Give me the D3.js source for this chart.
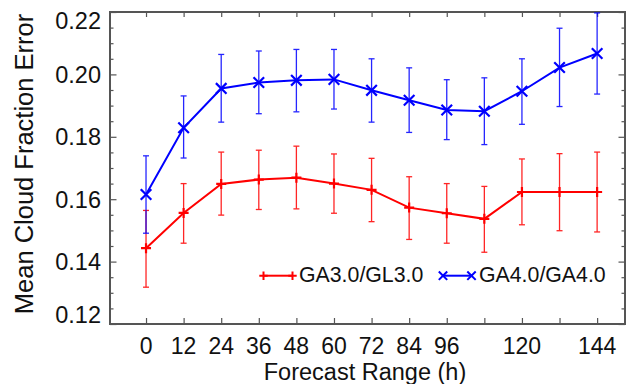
<!DOCTYPE html>
<html>
<head>
<meta charset="utf-8">
<script src="https://cdn.jsdelivr.net/npm/d3@7"></script>
<style>
  html, body { margin: 0; padding: 0; background: #fff; }
  svg { display: block; font-family: "Liberation Sans", Arial, Helvetica, sans-serif; }
</style>
</head>
<body>
<svg id="chart" width="630" height="384"></svg>
<script>
// Forecast lead times (hours)
const leadTimes = [0, 12, 24, 36, 48, 60, 72, 84, 96, 108, 120, 132, 144];
const xTickLabels = [0, 12, 24, 36, 48, 60, 72, 84, 96, 120, 144];
const yTickValues = [0.12, 0.14, 0.16, 0.18, 0.20, 0.22];

// GA3.0/GL3.0 mean cloud fraction error and its bar limits
const ga3Mean = [0.1443, 0.1556, 0.1649, 0.1663, 0.1669, 0.1650, 0.1630, 0.1573, 0.1555, 0.1537, 0.1623, 0.1623, 0.1623];
const ga3Low  = [0.1318, 0.1459, 0.1549, 0.1567, 0.1569, 0.1555, 0.1528, 0.1471, 0.1459, 0.1430, 0.1518, 0.1499, 0.1495];
const ga3High = [0.1564, 0.1650, 0.1751, 0.1757, 0.1770, 0.1745, 0.1731, 0.1672, 0.1650, 0.1641, 0.1729, 0.1746, 0.1751];

// GA4.0/GA4.0 mean cloud fraction error and its bar limits
const ga4Mean = [0.1615, 0.1829, 0.1955, 0.1974, 0.1981, 0.1984, 0.1949, 0.1917, 0.1886, 0.1882, 0.1946, 0.2022, 0.2067];
const ga4Low  = [0.1491, 0.1732, 0.1847, 0.1874, 0.1880, 0.1889, 0.1847, 0.1814, 0.1791, 0.1775, 0.1840, 0.1897, 0.1937];
const ga4High = [0.1739, 0.1931, 0.2064, 0.2075, 0.2080, 0.2080, 0.2050, 0.2021, 0.1983, 0.1989, 0.2050, 0.2148, 0.2197];

const seriesNames = ["GA3.0/GL3.0", "GA4.0/GA4.0"];

const frameLeft = 110, frameRight = 625, frameTop = 12, frameBottom = 324;
const svg = d3.select("#chart");

const x = d3.scaleLinear().domain([-11.5, 152.9]).range([frameLeft, frameRight]);
const y = d3.scaleLinear().domain([0.12, 0.22]).range([frameBottom, frameTop]);

const axisColor = "#555";

// Clip marks to the plotting frame
svg.append("clipPath").attr("id", "plotclip")
  .append("rect").attr("x", frameLeft).attr("y", frameTop)
  .attr("width", frameRight - frameLeft).attr("height", frameBottom - frameTop);

// Axes: ticks point inward on all four sides
const tickEvery12 = d3.range(0, 145, 12);
const minorY = d3.range(0.12, 0.2201, 0.005).filter(v => Math.abs(Math.round(v / 0.02) * 0.02 - v) > 1e-6);

const bottomAxis = d3.axisBottom(x).tickValues(tickEvery12).tickSize(-6).tickFormat("");
const topAxis = d3.axisTop(x).tickValues(tickEvery12).tickSize(-5).tickFormat("");
const leftAxis = d3.axisLeft(y).tickValues(yTickValues).tickSize(-6.5).tickFormat("");
const rightAxis = d3.axisRight(y).tickValues(yTickValues).tickSize(-6.5).tickFormat("");
const leftMinor = d3.axisLeft(y).tickValues(minorY).tickSize(-3.5).tickFormat("");
const rightMinor = d3.axisRight(y).tickValues(minorY).tickSize(-3.5).tickFormat("");

function styleAxis(g) {
  g.select(".domain").remove();
  g.selectAll(".tick line").attr("stroke", axisColor).attr("stroke-width", 1.2);
}
svg.append("g").attr("transform", `translate(0,${frameBottom})`).call(bottomAxis).call(styleAxis);
svg.append("g").attr("transform", `translate(0,${frameTop})`).call(topAxis).call(styleAxis);
svg.append("g").attr("transform", `translate(${frameLeft},0)`).call(leftAxis).call(styleAxis);
svg.append("g").attr("transform", `translate(${frameRight},0)`).call(rightAxis).call(styleAxis);
svg.append("g").attr("transform", `translate(${frameLeft},0)`).call(leftMinor).call(styleAxis);
svg.append("g").attr("transform", `translate(${frameRight},0)`).call(rightMinor).call(styleAxis);

// Frame
svg.append("rect")
  .attr("x", frameLeft).attr("y", frameTop)
  .attr("width", frameRight - frameLeft).attr("height", frameBottom - frameTop)
  .attr("fill", "none").attr("stroke", axisColor).attr("stroke-width", 2);

// Tick labels
svg.append("g").selectAll("text").data(xTickLabels).join("text")
  .attr("x", d => x(d)).attr("y", 354)
  .attr("text-anchor", "middle").attr("font-size", 23).attr("fill", "#111")
  .text(d => d);

svg.append("g").selectAll("text").data(yTickValues).join("text")
  .attr("x", 101)
  .attr("y", d => Math.min(Math.max(y(d), frameTop + 8.5), frameBottom - 9) + 8.3)
  .attr("text-anchor", "end").attr("font-size", 23.5).attr("fill", "#111")
  .text(d => d3.format(".2f")(d));

// Axis titles
svg.append("text")
  .attr("x", 365).attr("y", 379.5)
  .attr("text-anchor", "middle").attr("font-size", 23.5).attr("fill", "#111")
  .text("Forecast Range (h)");

svg.append("text")
  .attr("transform", "translate(32.5,164) rotate(-90)")
  .attr("text-anchor", "middle").attr("font-size", 25.5).attr("fill", "#111")
  .text("Mean Cloud Fraction Error");

// Series
const series = [
  { name: seriesNames[0], color: "#ff0000", mean: ga3Mean, low: ga3Low, high: ga3High, marker: "plus" },
  { name: seriesNames[1], color: "#0000ff", mean: ga4Mean, low: ga4Low, high: ga4High, marker: "cross" }
];

function markerPath(kind, s) {
  if (kind === "plus") return `M${-s},0H${s}M0,${-s}V${s}`;
  return `M${-s},${-s}L${s},${s}M${-s},${s}L${s},${-s}`;
}

const plot = svg.append("g").attr("clip-path", "url(#plotclip)");
const line = d3.line().x((d, i) => x(leadTimes[i])).y(d => y(d));

series.forEach(s => {
  const g = plot.append("g");
  // error bars
  const bars = g.append("g").attr("stroke", s.color).attr("stroke-width", 1.3).attr("opacity", 0.85);
  leadTimes.forEach((t, i) => {
    const cx = x(t);
    bars.append("line").attr("x1", cx).attr("x2", cx).attr("y1", y(s.low[i])).attr("y2", y(s.high[i]));
    bars.append("line").attr("x1", cx - 3).attr("x2", cx + 3).attr("y1", y(s.low[i])).attr("y2", y(s.low[i]));
    bars.append("line").attr("x1", cx - 3).attr("x2", cx + 3).attr("y1", y(s.high[i])).attr("y2", y(s.high[i]));
  });
  // mean line
  g.append("path").datum(s.mean).attr("d", line)
    .attr("fill", "none").attr("stroke", s.color).attr("stroke-width", 2);
  // markers
  g.append("g").selectAll("path").data(s.mean).join("path")
    .attr("transform", (d, i) => `translate(${x(leadTimes[i])},${y(d)})`)
    .attr("d", markerPath(s.marker, s.marker === "plus" ? 5 : 5.3))
    .attr("fill", "none").attr("stroke", s.color).attr("stroke-width", 2.2);
});

// Legend
const legendItems = [
  { s: series[0], x0: 263.5, x1: 292.5, tx: 299 },
  { s: series[1], x0: 443, x1: 471.5, tx: 479 }
];
const legendY = 275.7;
legendItems.forEach(item => {
  const g = svg.append("g");
  g.append("line").attr("x1", item.x0).attr("x2", item.x1).attr("y1", legendY).attr("y2", legendY)
    .attr("stroke", item.s.color).attr("stroke-width", 2);
  [item.x0, item.x1].forEach(px => {
    g.append("path").attr("transform", `translate(${px},${legendY})`)
      .attr("d", markerPath(item.s.marker, 4.2))
      .attr("fill", "none").attr("stroke", item.s.color).attr("stroke-width", 2);
  });
  g.append("text").attr("x", item.tx).attr("y", legendY + 6.5)
    .attr("font-size", 21.3).attr("fill", "#111").text(item.s.name);
});
</script>
</body>
</html>
